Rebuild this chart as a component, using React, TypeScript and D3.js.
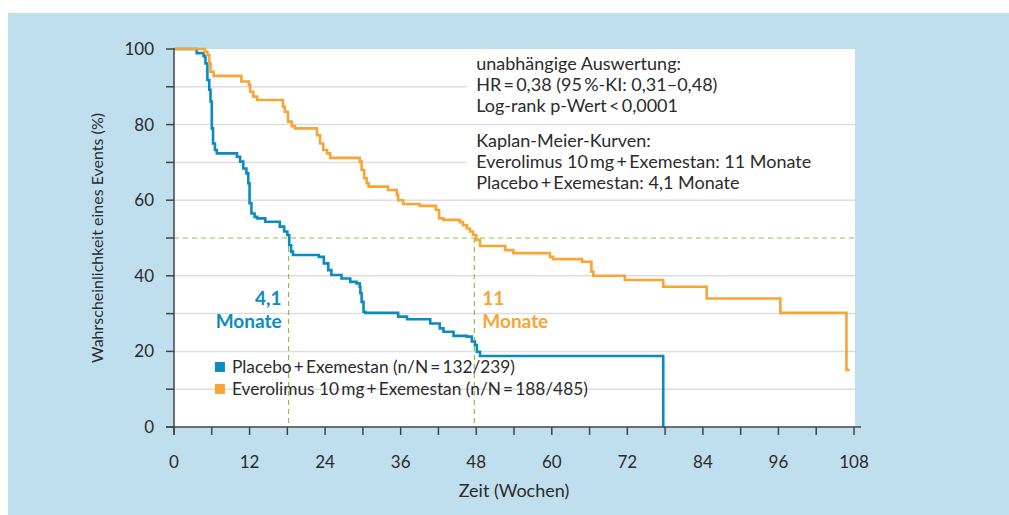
import * as d3 from 'd3'

const WIDTH = 1009
const HEIGHT = 515
const MARGIN = { top: 49, right: 155, bottom: 88, left: 174 }

const BG = '#c0dfee'
const BLUE = '#0b8bbf'
const ORANGE = '#f8a535'
const GREEN = '#8cc63f'
const TEXT = '#2b2b2b'
const FONT = 'Lato, "Noto Sans", sans-serif'

// Kaplan-Meier steps: [week, percent]
const placebo: [number, number][] = [
  [0, 100], [3.6, 98.9], [4.7, 98.1], [5.0, 96.2], [5.3, 91.8], [5.6, 89.2],
  [5.8, 86.1], [6.0, 79.0], [6.2, 75.0], [6.5, 73.3], [6.8, 72.4], [10.0, 71.5],
  [10.5, 70.2], [11.0, 68.4], [11.5, 67.1], [11.8, 64.5], [12.0, 59.2], [12.3, 56.5],
  [12.8, 55.6], [13.2, 55.2], [14.5, 54.3], [16.8, 53.0], [17.5, 51.7], [18.0, 50.8],
  [18.3, 48.1], [18.6, 46.4], [18.9, 45.5], [23.0, 45.0], [23.8, 43.3], [24.5, 41.5],
  [25.0, 40.2], [26.6, 39.3], [28.0, 38.4], [29.0, 38.0], [29.5, 37.1], [29.6, 35.4],
  [29.8, 33.1], [30.1, 30.5], [30.4, 30.2], [35.6, 29.2], [37.0, 28.5], [40.7, 27.4],
  [42.2, 26.1], [42.8, 25.2], [44.4, 24.1], [46.5, 23.9], [47.3, 22.6], [47.8, 21.7],
  [48.1, 19.9], [48.6, 18.8], [77.7, 0]
]

const everolimus: [number, number][] = [
  [0, 100], [4.9, 99.3], [5.3, 98.4], [5.6, 96.3], [5.8, 94.0], [6.3, 92.9],
  [10.7, 91.4], [11.9, 90.5], [12.1, 88.7], [12.6, 87.4], [13.2, 86.5], [17.3, 84.7],
  [17.6, 83.4], [18.1, 80.8], [18.7, 79.6], [19.2, 79.0], [22.7, 77.2], [23.2, 75.0],
  [23.7, 73.3], [24.3, 72.4], [24.8, 71.2], [29.5, 70.2], [29.8, 68.0], [30.2, 65.8],
  [30.6, 64.5], [30.9, 63.6], [34.0, 62.7], [35.4, 61.4], [35.6, 60.0], [36.4, 59.0],
  [39.0, 58.5], [41.6, 57.4], [42.1, 55.2], [42.8, 54.8], [45.4, 54.2], [45.9, 53.4],
  [46.5, 52.5], [47.0, 51.7], [47.5, 50.8], [48.0, 49.5], [48.6, 47.9], [52.6, 46.8],
  [53.9, 46.0], [59.7, 45.0], [60.2, 44.4], [64.8, 43.7], [66.3, 41.1], [66.6, 40.0],
  [71.6, 38.9], [77.7, 37.1], [84.6, 34.0], [96.3, 30.2], [106.8, 15.1], [107.3, 15.1]
]

const medianPlacebo = 18.2
const medianEverolimus = 47.7

const xTickLabels = [0, 12, 24, 36, 48, 60, 72, 84, 96, 108]
const xMinorTicks = [6, 18, 30, 42, 54, 66, 78, 90, 102]
const yTickLabels = [0, 20, 40, 60, 80, 100]
const yMinorTicks = [10, 30, 50, 70, 90]

const statsLines = [
  'unabhängige Auswertung:',
  'HR\u2009=\u20090,38 (95\u2009%-KI: 0,31–0,48)',
  'Log-rank p-Wert\u2009<\u20090,0001'
]
const kmLines = [
  'Kaplan-Meier-Kurven:',
  'Everolimus 10\u2009mg\u2009+\u2009Exemestan: 11 Monate',
  'Placebo\u2009+\u2009Exemestan: 4,1 Monate'
]
const legendItems = [
  { label: 'Placebo\u2009+\u2009Exemestan (n/N\u2009=\u2009132/239)', color: BLUE },
  { label: 'Everolimus 10\u2009mg\u2009+\u2009Exemestan (n/N\u2009=\u2009188/485)', color: ORANGE }
]

export default function App() {
  const innerWidth = WIDTH - MARGIN.left - MARGIN.right
  const innerHeight = HEIGHT - MARGIN.top - MARGIN.bottom

  const x = d3.scaleLinear().domain([0, 108]).range([0, innerWidth])
  const y = d3.scaleLinear().domain([0, 100]).range([innerHeight, 0])

  const line = d3.line<[number, number]>()
    .x(d => x(d[0]))
    .y(d => y(d[1]))
    .curve(d3.curveStepAfter)

  const gridValues = d3.range(10, 100, 10).filter(v => v !== 50)

  return (
    <svg width={WIDTH} height={HEIGHT} style={{ position: 'absolute', left: 0, top: 0 }}>
      <rect x={0} y={0} width={WIDTH} height={HEIGHT} fill="white" />
      <rect x={8} y={13} width={WIDTH - 8} height={HEIGHT - 13} fill={BG} />

      <g transform={`translate(${MARGIN.left}, ${MARGIN.top})`} fontFamily={FONT}>
        <rect x={0} y={0} width={innerWidth + 1} height={innerHeight} fill="white" />

        {/* Grid lines */}
        {gridValues.map(v => (
          <line key={v} x1={0} x2={innerWidth + 1} y1={y(v)} y2={y(v)} stroke="#dddddd" strokeWidth={1.5} />
        ))}

        {/* White boxes behind the stats text */}
        <rect x={x(46.5)} y={y(99)} width={innerWidth - x(46.5) + 1} height={y(80.5) - y(99)} fill="white" />
        <rect x={x(46.5)} y={y(78.5)} width={innerWidth - x(46.5) + 1} height={y(61) - y(78.5)} fill="white" />

        {/* Median reference lines */}
        <g stroke={GREEN} strokeWidth={1.2} strokeDasharray="5,4" fill="none">
          <line x1={0} x2={innerWidth + 1} y1={y(50)} y2={y(50)} />
          <line x1={x(medianPlacebo)} x2={x(medianPlacebo)} y1={y(50)} y2={y(0)} />
          <line x1={x(medianEverolimus)} x2={x(medianEverolimus)} y1={y(50)} y2={y(0)} />
        </g>

        {/* Curves */}
        <path d={line(placebo) ?? ''} fill="none" stroke={BLUE} strokeWidth={2.6} />
        <path d={line(everolimus) ?? ''} fill="none" stroke={ORANGE} strokeWidth={2.6} />

        {/* Axes */}
        <line x1={-8} x2={innerWidth + 7} y1={innerHeight} y2={innerHeight} stroke="#444" strokeWidth={1.5} />
        <line x1={0} x2={0} y1={-1} y2={innerHeight + 8} stroke="#444" strokeWidth={1.5} />
        {[...xTickLabels, ...xMinorTicks].map(t => (
          <line key={`xt${t}`} x1={x(t)} x2={x(t)} y1={innerHeight} y2={innerHeight + 8} stroke="#444" strokeWidth={1.5} />
        ))}
        {[...yTickLabels, ...yMinorTicks].map(t => (
          <line key={`yt${t}`} x1={-8} x2={0} y1={y(t)} y2={y(t)} stroke="#444" strokeWidth={1.5} />
        ))}
        {xTickLabels.map(t => (
          <text key={`xl${t}`} x={x(t)} y={innerHeight + 41} textAnchor="middle" fontSize={17} fill={TEXT}>{t}</text>
        ))}
        {yTickLabels.map(t => (
          <text key={`yl${t}`} x={-20} y={y(t)} dy="0.35em" textAnchor="end" fontSize={17} fill={TEXT}>{t}</text>
        ))}
        <text x={innerWidth / 2} y={innerHeight + 70} textAnchor="middle" fontSize={18} fill={TEXT}>Zeit (Wochen)</text>
        <text transform={`translate(${-77}, ${y(50)}) rotate(-90)`} textAnchor="middle" dy="0.35em" fontSize={16} fill={TEXT}>
          Wahrscheinlichkeit eines Events (%)
        </text>

        {/* Median labels */}
        <text x={x(medianPlacebo) - 7} y={y(32.2)} textAnchor="end" fontSize={19} fontWeight="bold" fill={BLUE}>4,1</text>
        <text x={x(medianPlacebo) - 7} y={y(26.3)} textAnchor="end" fontSize={19} fontWeight="bold" fill={BLUE}>Monate</text>
        <text x={x(medianEverolimus) + 8} y={y(32.2)} fontSize={19} fontWeight="bold" fill={ORANGE}>11</text>
        <text x={x(medianEverolimus) + 8} y={y(26.3)} fontSize={19} fontWeight="bold" fill={ORANGE}>Monate</text>

        {/* Stats text */}
        {statsLines.map((s, i) => (
          <text key={s} x={x(48)} y={y(94.5) + i * 21} fontSize={18} fill={TEXT}>{s}</text>
        ))}
        {kmLines.map((s, i) => (
          <text key={s} x={x(48)} y={y(74) + i * 21} fontSize={18} fill={TEXT}>{s}</text>
        ))}

        {/* Legend */}
        {legendItems.map((d, i) => (
          <g key={d.label} transform={`translate(${x(6.5)}, ${y(14.3) + i * 22})`}>
            <rect x={0} y={-11} width={10} height={10} fill={d.color} />
            <text x={17} y={0} fontSize={17.3} fill={TEXT}>{d.label}</text>
          </g>
        ))}
      </g>
    </svg>
  )
}
